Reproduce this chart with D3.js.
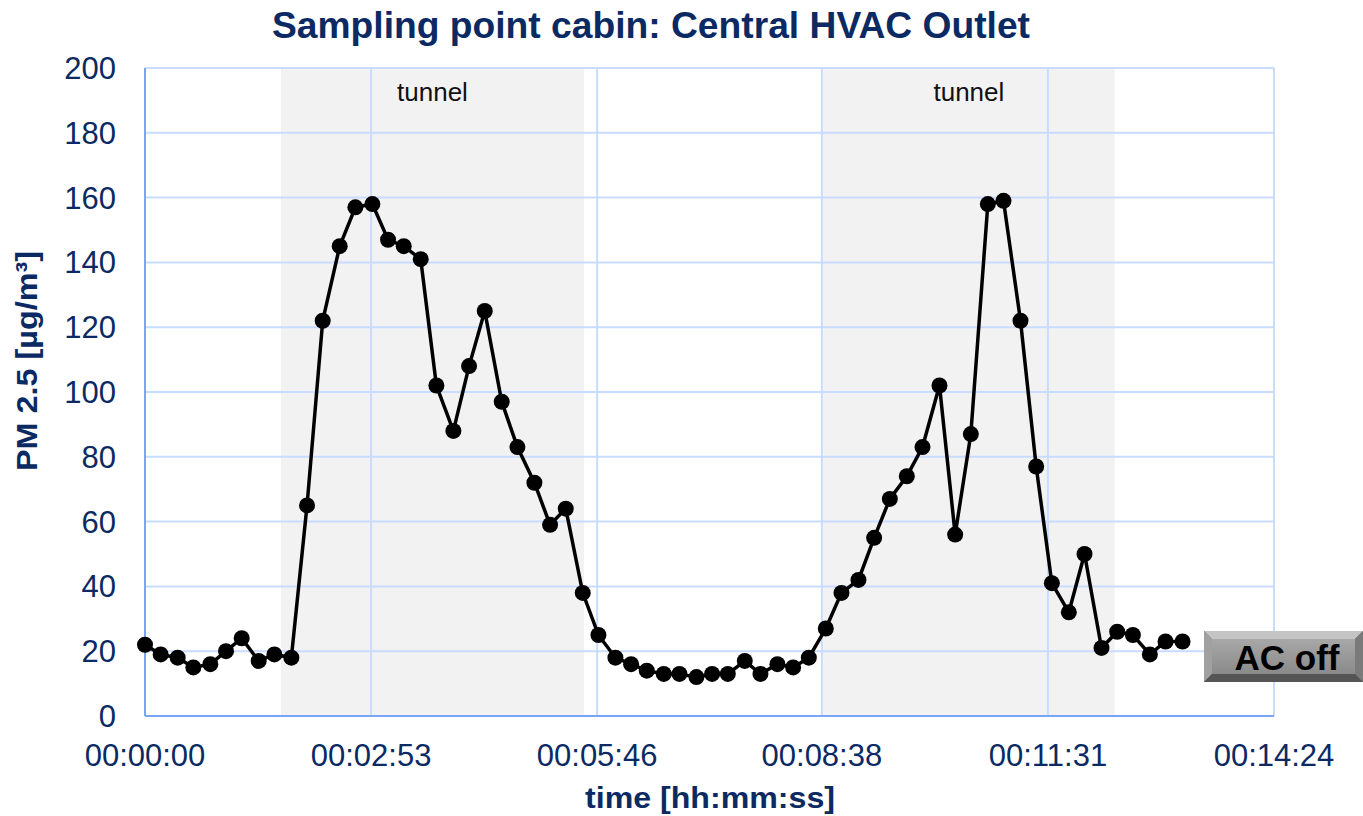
<!DOCTYPE html>
<html>
<head>
<meta charset="utf-8">
<script src="https://cdn.jsdelivr.net/npm/d3@7"></script>
<style>
  body { margin: 0; background: #fff; }
  svg { display: block; font-family: "Liberation Sans", Arial, sans-serif; }
</style>
</head>
<body>
<div id="graph"></div>
<script>
// sample times in seconds from start, PM2.5 readings
const times = [0, 12, 25, 37, 50, 62, 74, 87, 99, 112, 124, 136, 149, 161, 174, 186, 198, 211, 223, 236,
  248, 260, 273, 285, 298, 310, 322, 335, 347, 360, 372, 384, 397, 409, 422, 434, 446, 459, 471, 484,
  496, 508, 521, 533, 546, 558, 570, 583, 595, 608, 620, 632, 645, 657, 670, 682, 694, 707, 719, 732,
  744, 756, 769, 781, 794];
const pm25 = [22, 19, 18, 15, 16, 20, 24, 17, 19, 18, 65, 122, 145, 157, 158, 147, 145, 141, 102, 88,
  108, 125, 97, 83, 72, 59, 64, 38, 25, 18, 16, 14, 13, 13, 12, 13, 13, 17, 13, 16,
  15, 18, 27, 38, 42, 55, 67, 74, 83, 102, 56, 87, 158, 159, 122, 77, 41, 32, 50, 21,
  26, 25, 19, 23, 23];
const xTicks = [0, 173, 346, 518, 691, 864];
const xTickLabels = ['00:00:00', '00:02:53', '00:05:46', '00:08:38', '00:11:31', '00:14:24'];
const yTicks = [0, 20, 40, 60, 80, 100, 120, 140, 160, 180, 200];
const tunnels = [[104, 336], [519, 742]];
const tunnelLabel = 'tunnel';

const W = 1363, H = 816;
const margin = {left: 145, right: 89, top: 68, bottom: 100};
const navy = '#0b2a63';

const svg = d3.select('#graph').append('svg').attr('width', W).attr('height', H);

const x = d3.scaleLinear().domain([0, 864]).range([margin.left, W - margin.right]);
const y = d3.scaleLinear().domain([0, 200]).range([H - margin.bottom, margin.top]);

// tunnel shading
svg.selectAll('rect.tunnel').data(tunnels).enter().append('rect')
    .attr('class', 'tunnel')
    .attr('x', d => x(d[0]))
    .attr('y', y(200))
    .attr('width', d => x(d[1]) - x(d[0]))
    .attr('height', y(0) - y(200))
    .attr('fill', '#f2f2f2');

// grid
svg.append('g').selectAll('line').data(yTicks).enter().append('line')
    .attr('x1', x(0)).attr('x2', x(864))
    .attr('y1', d => y(d)).attr('y2', d => y(d))
    .attr('stroke', '#c9dbff').attr('stroke-width', 2);
svg.append('g').selectAll('line').data(xTicks).enter().append('line')
    .attr('x1', d => x(d)).attr('x2', d => x(d))
    .attr('y1', y(0)).attr('y2', y(200))
    .attr('stroke', '#c9dbff').attr('stroke-width', 2);

// axes lines
svg.append('line').attr('x1', x(0)).attr('x2', x(0)).attr('y1', y(0)).attr('y2', y(200))
    .attr('stroke', '#7aa5f5').attr('stroke-width', 2);
svg.append('line').attr('x1', x(0)).attr('x2', x(864)).attr('y1', y(0)).attr('y2', y(0))
    .attr('stroke', '#7aa5f5').attr('stroke-width', 2);

// tunnel labels
svg.selectAll('text.tlabel').data(tunnels).enter().append('text')
    .attr('x', d => (x(d[0]) + x(d[1])) / 2)
    .attr('y', 101)
    .attr('text-anchor', 'middle')
    .attr('font-size', 26)
    .attr('fill', '#111')
    .text(tunnelLabel);

// tick labels
svg.append('g').selectAll('text').data(yTicks).enter().append('text')
    .attr('x', 116).attr('y', d => y(d) + 11)
    .attr('text-anchor', 'end')
    .attr('font-size', 31)
    .attr('fill', navy)
    .text(d => d);
svg.append('g').selectAll('text').data(xTicks).enter().append('text')
    .attr('x', d => x(d)).attr('y', 766)
    .attr('text-anchor', 'middle')
    .attr('font-size', 31)
    .attr('fill', navy)
    .text((d, i) => xTickLabels[i]);

// axis titles
svg.append('text')
    .attr('x', 710).attr('y', 808)
    .attr('text-anchor', 'middle')
    .attr('font-size', 30).attr('font-weight', 'bold')
    .attr('fill', navy)
    .attr('textLength', 250).attr('lengthAdjust', 'spacingAndGlyphs')
    .text('time [hh:mm:ss]');
svg.append('text')
    .attr('transform', 'translate(37,361) rotate(-90)')
    .attr('text-anchor', 'middle')
    .attr('font-size', 30).attr('font-weight', 'bold')
    .attr('fill', navy)
    .attr('textLength', 220).attr('lengthAdjust', 'spacingAndGlyphs')
    .text('PM 2.5 [µg/m³]');

// title
svg.append('text')
    .attr('x', 651).attr('y', 38)
    .attr('text-anchor', 'middle')
    .attr('font-size', 36).attr('font-weight', 'bold')
    .attr('fill', navy)
    .attr('textLength', 758).attr('lengthAdjust', 'spacingAndGlyphs')
    .text('Sampling point cabin: Central HVAC Outlet');

// series
const pts = times.map((t, i) => [t, pm25[i]]);
svg.append('path')
    .datum(pts)
    .attr('d', d3.line().x(d => x(d[0])).y(d => y(d[1])))
    .attr('fill', 'none').attr('stroke', '#000').attr('stroke-width', 3.5);
svg.append('g').selectAll('circle').data(pts).enter().append('circle')
    .attr('cx', d => x(d[0])).attr('cy', d => y(d[1]))
    .attr('r', 8).attr('fill', '#000');

// AC off button
const defs = svg.append('defs');
const grad = defs.append('linearGradient').attr('id', 'btn').attr('x1', 0).attr('y1', 0).attr('x2', 0).attr('y2', 1);
grad.append('stop').attr('offset', '0%').attr('stop-color', '#a8a8a8');
grad.append('stop').attr('offset', '100%').attr('stop-color', '#8a8a8a');
const btn = svg.append('g').attr('transform', 'translate(1204,631)');
const bw = 159, bh = 51, bev = 8;
btn.append('rect').attr('width', bw).attr('height', bh).attr('fill', '#6e6e6e');
btn.append('polygon').attr('points', `0,0 ${bw},0 ${bw - bev},${bev} ${bev},${bev}`).attr('fill', '#c4c4c4');
btn.append('polygon').attr('points', `0,0 ${bev},${bev} ${bev},${bh - bev} 0,${bh}`).attr('fill', '#a0a0a0');
btn.append('polygon').attr('points', `${bw},0 ${bw},${bh} ${bw - bev},${bh - bev} ${bw - bev},${bev}`).attr('fill', '#7a7a7a');
btn.append('polygon').attr('points', `0,${bh} ${bev},${bh - bev} ${bw - bev},${bh - bev} ${bw},${bh}`).attr('fill', '#555');
btn.append('rect').attr('x', bev).attr('y', bev).attr('width', bw - 2 * bev).attr('height', bh - 2 * bev).attr('fill', 'url(#btn)');
btn.append('text')
    .attr('x', 83).attr('y', 39)
    .attr('text-anchor', 'middle')
    .attr('font-size', 35).attr('font-weight', 'bold')
    .attr('fill', '#000')
    .text('AC off');
</script>
</body>
</html>
